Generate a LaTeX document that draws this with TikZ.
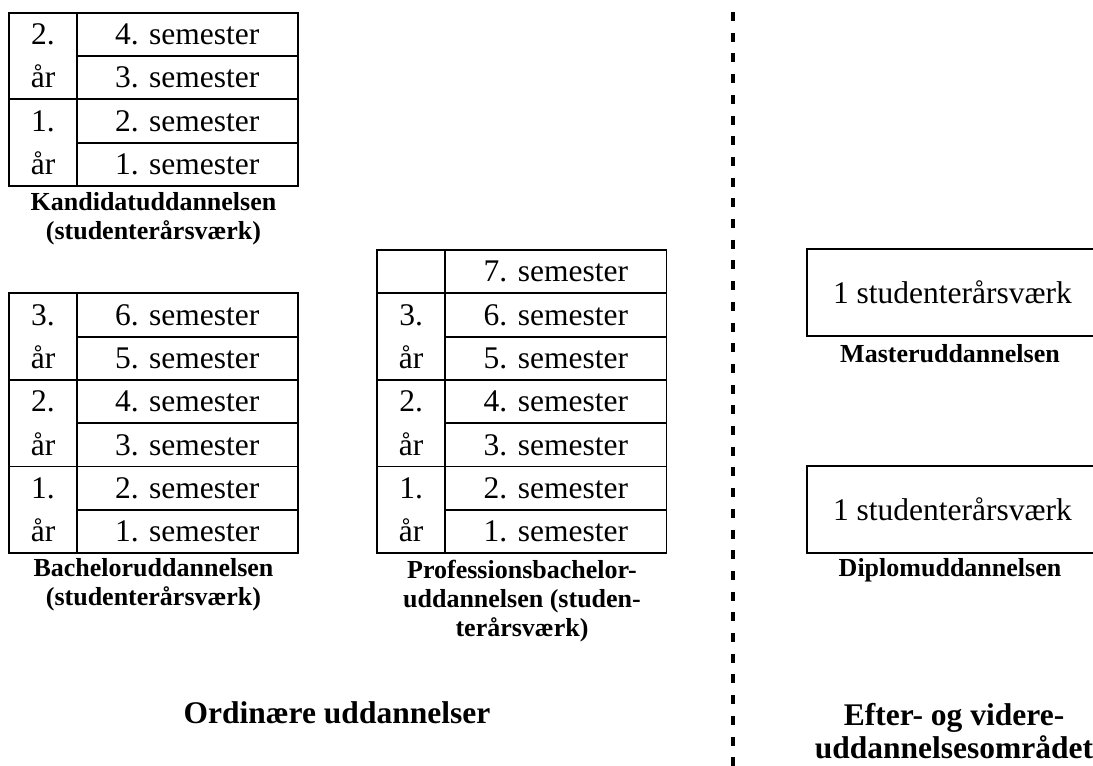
\documentclass[tikz,border=0pt]{standalone}
\usepackage{fontspec}
\setmainfont{Liberation Serif}
\begin{document}
\begin{tikzpicture}[x=1pt,y=-1pt]
        \tikzstyle{sem}=[draw, line width=1.8pt, outer sep=0pt, minimum width=221pt, minimum height=43.3pt, font=\fontsize{31.5}{43.3}\selectfont];
        \tikzstyle{aar}=[sem, minimum width=67.7pt, minimum height=86.6pt, inner sep=0pt, align=center];
        \tikzstyle{box}=[sem, minimum width=291pt, minimum height=87pt];
        \tikzstyle{lbl}=[align=center, font=\bfseries\fontsize{26}{29}\selectfont];
        \tikzstyle{big}=[align=center, font=\bfseries\fontsize{31.5}{33}\selectfont];
        \useasboundingbox (0,0) rectangle (1093,766);
        %\node (name) at (x,y) [style] {text};
        % kandidat
        \foreach \i in {1,...,4}
                \node[sem] (k\i) at (187.2,{185.9-(\i-0.5)*43.3}) {\i. semester};
        \foreach \j in {1,2}
                \node[aar] (ka\j) at (43,{185.9-(\j-0.5)*86.6}) {\j.\\år};
        \node[lbl] (klbl) at (153.5,219) {Kandidatuddannelsen\\(studenterårsværk)};
        % bachelor
        \foreach \i in {1,...,6}
                \node[sem] (b\i) at (187.2,{553.1-(\i-0.5)*43.3}) {\i. semester};
        \foreach \j in {1,2,3}
                \node[aar] (ba\j) at (43,{553.1-(\j-0.5)*86.6}) {\j.\\år};
        \node[lbl] (blbl) at (153.5,585) {Bacheloruddannelsen\\(studenterårsværk)};
        % professionsbachelor
        \foreach \i in {1,...,7}
                \node[sem] (p\i) at (555.9,{553.1-(\i-0.5)*43.3}) {\i. semester};
        \foreach \j in {1,2,3}
                \node[aar] (pa\j) at (411.2,{553.1-(\j-0.5)*86.6}) {\j.\\år};
        \node[aar, minimum height=43.3pt] (pa0) at (411.2,{553.1-6.5*43.3}) {};
        \node[lbl] (plbl) at (522,601.5) {Professionsbachelor-\\uddannelsen (studen-\\terårsværk)};
        % efter- og videreuddannelse
        \node[box] (master) at (952.5,292.5) {1 studenterårsværk};
        \node[lbl] (mlbl) at (950,354) {Masteruddannelsen};
        \node[box] (diplom) at (952.5,509.7) {1 studenterårsværk};
        \node[lbl] (dlbl) at (950,570) {Diplomuddannelsen};
        \draw[line width=3.5pt, dash pattern=on 9pt off 11.7pt] (733,12) -- (733,766);
        \node[big] (ord) at (337,713) {Ordinære uddannelser};
        \node[big] (efter) at (954,731.5) {Efter- og videre-\\uddannelsesområdet};
        \end{tikzpicture}
\end{document}
